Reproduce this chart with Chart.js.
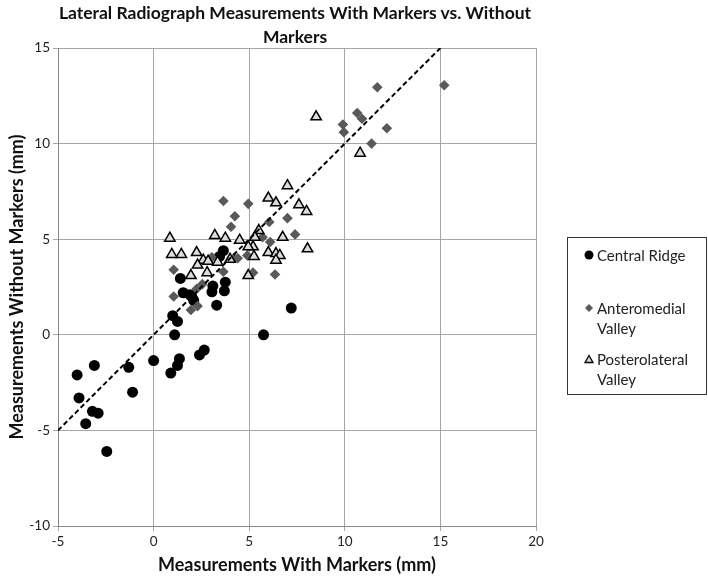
<!DOCTYPE html>
<html>
<head>
<meta charset="utf-8">
<script src="https://cdn.jsdelivr.net/npm/chart.js"></script>
<style>
  body { margin: 0; background: #fff; font-family: Lato, "Open Sans", sans-serif; }
  #wrap { position: relative; width: 708px; height: 576px; }
  #title { position: absolute; left: 0; top: 1px; width: 590px; text-align: center;
           font-weight: bold; font-size: 17.5px; line-height: 24px; color: #111; }
  #legend { position: absolute; left: 567px; top: 237px; width: 138px; height: 156px;
            border: 1.5px solid #333; }
  .item { position: absolute; left: 0; font-size: 15px; line-height: 20px; color: #222; }
  .item svg { position: absolute; left: 16px; top: 5px; }
  .item span { position: absolute; left: 29px; top: 0; white-space: nowrap; }
</style>
</head>
<body>
<div id="wrap">
  <canvas id="chart" width="708" height="576"></canvas>
  <div id="title">Lateral Radiograph Measurements With Markers vs. Without<br>Markers</div>
  <div id="legend">
    <div class="item" style="top:7px">
      <svg width="10" height="10"><circle cx="5" cy="5" r="4.5" fill="#000"/></svg>
      <span>Central Ridge</span>
    </div>
    <div class="item" style="top:60px">
      <svg width="10" height="10"><polygon points="5,1 9,5 5,9 1,5" fill="#595959"/></svg>
      <span>Anteromedial<br>Valley</span>
    </div>
    <div class="item" style="top:111px">
      <svg width="10" height="10"><polygon points="5,1.5 9,8.5 1,8.5" fill="#d9d9d9" stroke="#000" stroke-width="1.3"/></svg>
      <span>Posterolateral<br>Valley</span>
    </div>
  </div>
</div>
<script>
// values (x = with markers, y = without markers, mm)
const centralX = [-4.0, -3.1, -3.9, -1.3, 0.0, 0.9, -1.1, -3.2, -2.9, -3.55, -2.45, 1.35, 1.25, 2.4, 2.65, 1.1,
                  5.75, 7.2, 3.3, 1.0, 1.25, 3.05, 3.7, 1.55, 2.0, 3.65, 3.45, 1.4, 2.1, 3.1, 3.75, 1.9];
const centralY = [-2.1, -1.6, -3.3, -1.7, -1.35, -2.0, -3.0, -4.0, -4.1, -4.65, -6.1, -1.25, -1.6, -1.05, -0.8, 0.0,
                  0.0, 1.4, 1.55, 1.0, 0.7, 2.25, 2.3, 2.2, 2.0, 4.4, 4.1, 2.95, 1.8, 2.55, 2.75, 2.1];

const anteroX = [3.65, 4.95, 4.25, 4.05, 7.0, 6.05, 7.4, 6.1, 5.7, 4.9, 5.2, 6.35, 1.05, 1.05, 1.95, 2.3,
                 3.05, 4.2, 3.65, 2.55, 2.25, 4.4, 11.7, 15.2, 10.65, 10.9, 9.9, 9.95, 12.2, 11.4];
const anteroY = [7.0, 6.85, 6.2, 5.65, 6.1, 5.9, 5.25, 4.85, 5.1, 4.15, 3.25, 3.15, 3.4, 2.0, 1.3, 1.5,
                 4.05, 4.0, 3.3, 2.65, 2.4, 4.0, 12.95, 13.05, 11.6, 11.3, 11.0, 10.6, 10.8, 10.0];

const posteroX = [7.0, 6.0, 6.4, 7.6, 8.0, 6.75, 8.05, 6.0, 6.4, 6.6, 6.4, 4.95, 5.25, 5.5, 5.3, 5.2, 4.95,
                  4.5, 3.75, 3.2, 0.85, 0.95, 1.45, 2.25, 2.6, 2.85, 3.35, 4.0, 2.3, 2.8, 1.95, 10.8, 8.5];
const posteroY = [7.8, 7.15, 6.9, 6.8, 6.45, 5.1, 4.5, 4.3, 4.25, 4.15, 3.9, 3.1, 4.1, 5.45, 5.1, 4.6, 4.6,
                  4.95, 5.05, 5.2, 5.05, 4.2, 4.2, 4.3, 3.9, 3.85, 3.8, 3.95, 3.65, 3.25, 3.1, 9.5, 11.4];

// y = x reference line
const lineX = [-5, 15];
const lineY = [-5, 15];

const xTicks = [-5, 0, 5, 10, 15, 20];
const yTicks = [-10, -5, 0, 5, 10, 15];

function pts(xs, ys) {
  return xs.map((x, i) => ({ x: x, y: ys[i] }));
}

const tickFont = { family: 'Lato', size: 13.5 };
const titleFont = { family: 'Lato', size: 18, weight: 'bold' };

new Chart(document.getElementById('chart'), {
  type: 'scatter',
  data: {
    datasets: [
      {
        type: 'line',
        label: 'y = x',
        data: pts(lineX, lineY),
        borderColor: '#000',
        borderWidth: 2,
        borderDash: [5, 3],
        pointRadius: 0,
        fill: false,
        order: 0
      },
      {
        label: 'Posterolateral Valley',
        data: pts(posteroX, posteroY),
        pointStyle: 'triangle',
        pointRadius: 6,
        backgroundColor: '#dcdcdc',
        borderColor: '#000',
        borderWidth: 1.5,
        order: 1
      },
      {
        label: 'Anteromedial Valley',
        data: pts(anteroX, anteroY),
        pointStyle: 'rectRot',
        pointRadius: 5.3,
        backgroundColor: '#595959',
        borderColor: '#595959',
        borderWidth: 0,
        order: 2
      },
      {
        label: 'Central Ridge',
        data: pts(centralX, centralY),
        pointStyle: 'circle',
        pointRadius: 5.5,
        backgroundColor: '#000',
        borderColor: '#000',
        borderWidth: 0,
        order: 3
      }
    ]
  },
  options: {
    responsive: false,
    animation: false,
    layout: { padding: { top: 48, right: 172, left: 0, bottom: 0 } },
    plugins: {
      legend: { display: false },
      tooltip: { enabled: false }
    },
    scales: {
      x: {
        type: 'linear',
        min: -5,
        max: 20,
        afterFit: s => { s.height = 50; },
        afterBuildTicks: s => { s.ticks = xTicks.map(v => ({ value: v })); },
        grid: { color: '#a6a6a6', lineWidth: 1, tickLength: 5 },
        border: { color: '#868686', width: 1 },
        ticks: { font: tickFont, color: '#222', padding: 3, maxRotation: 0 },
        title: {
          display: true,
          text: 'Measurements With Markers (mm)',
          font: titleFont,
          color: '#111',
          padding: { top: 0, bottom: 0 }
        }
      },
      y: {
        type: 'linear',
        min: -10,
        max: 15,
        afterFit: s => { s.width = 58; },
        afterBuildTicks: s => { s.ticks = yTicks.map(v => ({ value: v })); },
        grid: { color: '#a6a6a6', lineWidth: 1, tickLength: 5 },
        border: { color: '#868686', width: 1 },
        ticks: { font: tickFont, color: '#222', padding: 3 },
        title: {
          display: true,
          text: 'Measurements Without Markers (mm)',
          font: titleFont,
          color: '#111',
          padding: { top: 6, bottom: 0 }
        }
      }
    }
  }
});
</script>
</body>
</html>
